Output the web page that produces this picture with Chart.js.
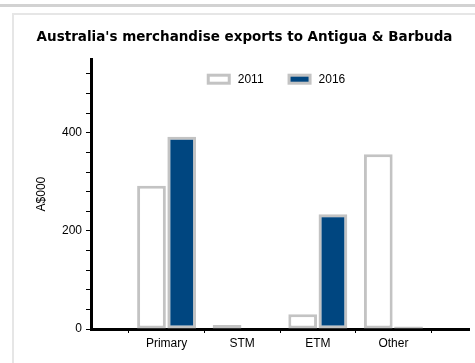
<!DOCTYPE html>
<html>
<head>
<meta charset="utf-8">
<script src="https://cdn.jsdelivr.net/npm/chart.js@4.4.1/dist/chart.umd.min.js"></script>
<style>
  html, body { margin: 0; padding: 0; background: #fff; overflow: hidden; }
  body { width: 475px; height: 363px; position: relative; font-family: "Liberation Sans", Arial, sans-serif; }
  .topRule { position: absolute; left: 0; top: 4px; width: 475px; height: 3px; background: #d2d2d2; }
  .panel { position: absolute; left: 12px; top: 13px; width: 480px; height: 370px; border: 2px solid #e6e6e6; box-sizing: border-box; }
  #exportsChart { position: absolute; left: 20px; top: 15px; }
</style>
</head>
<body>
<div class="topRule"></div>
<div class="panel"></div>
<canvas id="exportsChart" width="461" height="348"></canvas>
<script>
// Australia's merchandise exports to Antigua & Barbuda, A$000
const categories = ["Primary", "STM", "ETM", "Other"];
const exports2011 = [292, 8, 30, 356];
const exports2016 = [392, 0, 234, 5];
const yTickLabels = [0, 200, 400];

const FONT = "'Liberation Sans', Arial, sans-serif";

// blank slots either side so the groups sit inside the axis
const labels = ["", ...categories, ""];
const pad = arr => [null, ...arr, null];

// horizontal legend drawn inside the plot, just under its top edge
const insideLegend = {
  id: "insideLegend",
  afterDraw(chart) {
    const { ctx, chartArea } = chart;
    const boxW = 24, boxH = 11, gap = 7, spacing = 24;
    ctx.save();
    ctx.font = "12px " + FONT;
    ctx.textBaseline = "middle";
    const sets = chart.data.datasets;
    const widths = sets.map(d => boxW + gap + ctx.measureText(d.label).width);
    const total = widths.reduce((a, b) => a + b, 0) + spacing * (sets.length - 1);
    let x = (chartArea.left + chartArea.right) / 2 - total / 2 - 4;
    const cy = chartArea.top + 20;
    sets.forEach((d, i) => {
      const bw = d.borderWidth;
      ctx.fillStyle = d.borderColor;
      ctx.fillRect(x, cy - boxH / 2, boxW, boxH);
      ctx.fillStyle = d.backgroundColor;
      ctx.fillRect(x + bw, cy - boxH / 2 + bw, boxW - 2 * bw, boxH - 2 * bw);
      ctx.fillStyle = "#000";
      ctx.fillText(d.label, x + boxW + gap, cy);
      x += widths[i] + spacing;
    });
    ctx.restore();
  }
};

const ctx = document.getElementById("exportsChart").getContext("2d");
new Chart(ctx, {
  type: "bar",
  data: {
    labels: labels,
    datasets: [
      {
        label: "2011",
        data: pad(exports2011),
        backgroundColor: "#ffffff",
        borderColor: "#c3c3c3",
        borderWidth: 3,
        borderSkipped: false
      },
      {
        label: "2016",
        data: pad(exports2016),
        backgroundColor: "#004680",
        borderColor: "#c3c3c3",
        borderWidth: 3,
        borderSkipped: false
      }
    ]
  },
  options: {
    responsive: false,
    animation: false,
    categoryPercentage: 0.8,
    barPercentage: 0.95,
    layout: { padding: { left: 0, right: 12, top: 0, bottom: 0 } },
    plugins: {
      title: {
        display: true,
        text: "Australia's merchandise exports to Antigua & Barbuda",
        color: "#000",
        font: { family: "'DejaVu Sans', Verdana, sans-serif", size: 13.5, weight: "bold" },
        padding: { top: 14, bottom: 14 }
      },
      legend: { display: false },
      tooltip: { enabled: false }
    },
    scales: {
      x: {
        offset: false,
        afterFit: s => { s.height = 34; },
        border: { color: "#000", width: 3 },
        grid: {
          drawOnChartArea: false,
          drawTicks: true,
          tickLength: 4,
          color: "#000"
        },
        ticks: {
          color: "#000",
          padding: 3,
          autoSkip: false,
          maxRotation: 0,
          font: { family: FONT, size: 12 }
        }
      },
      y: {
        min: 0,
        max: 550,
        afterFit: s => { s.width = 71; },
        afterBuildTicks: s => { s.ticks = s.ticks.filter(t => t.value % 40 === 0); },
        border: { color: "#000", width: 3 },
        grid: {
          drawOnChartArea: false,
          drawTicks: true,
          tickLength: 5,
          color: "#000"
        },
        ticks: {
          stepSize: 40,
          color: "#000",
          padding: 4,
          font: { family: FONT, size: 12 },
          callback: v => (yTickLabels.includes(v) ? v : "")
        },
        title: {
          display: true,
          text: "A$000",
          color: "#000",
          padding: { top: 14, bottom: 0 },
          font: { family: FONT, size: 12 }
        }
      }
    }
  },
  plugins: [insideLegend]
});
</script>
</body>
</html>
